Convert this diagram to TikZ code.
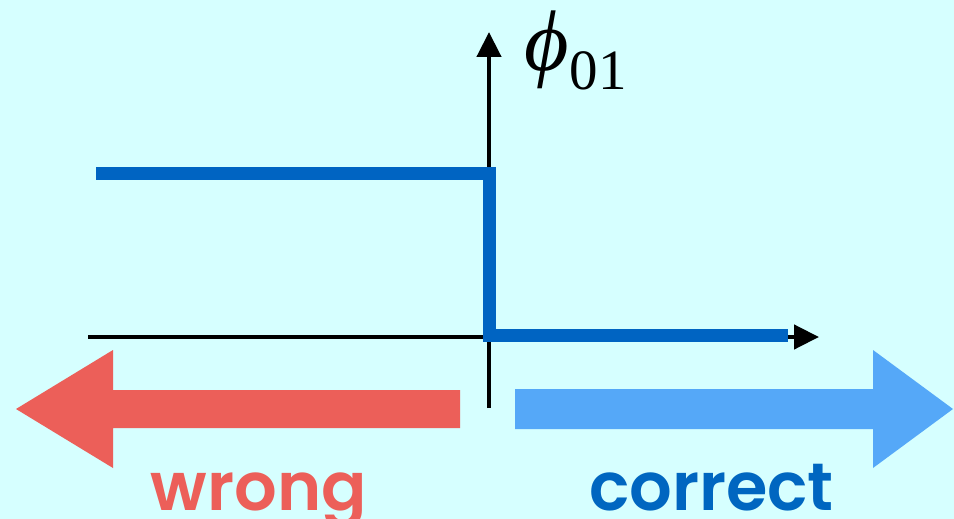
\documentclass[tikz,border=0pt]{standalone}
\usepackage{fontspec}
\setmainfont{Liberation Serif}
\newfontfamily\labelfont{Poppins}[UprightFont=* SemiBold]
\usetikzlibrary{arrows.meta}
\definecolor{bgc}{HTML}{D6FFFF}
\definecolor{redc}{HTML}{EC5F59}
\definecolor{bluearr}{HTML}{55A8F8}
\definecolor{blueline}{HTML}{0064C2}
\definecolor{bluetext}{HTML}{0066C0}
\tikzset{
  axis/.style={line width=4.5pt, -{Triangle[length=25pt,width=24pt]}},
  stepline/.style={line width=13pt, blueline, line join=miter, line cap=butt},
  lbl/.style={font=\labelfont\fontsize{67}{67}\selectfont, inner sep=0pt, anchor=base}
}
\begin{document}
\begin{tikzpicture}[x=1pt,y=-1pt]
\fill[bgc] (0,0) rectangle (954,519);
\useasboundingbox (0,0) rectangle (954,519);
% axes
\coordinate (xs) at (88,337);
\coordinate (xe) at (819,337);
\coordinate (ys) at (489,408);
\coordinate (ye) at (489,32);
\draw[axis] (xs) -- (xe);
\draw[axis] (ys) -- (ye);
% step function
\coordinate (s1) at (96,173.5);
\coordinate (s2) at (489.5,173.5);
\coordinate (s3) at (489.5,335);
\coordinate (s4) at (788,335);
\draw[stepline] (s1) -- (s2) -- (s3) -- (s4);
% label
\node[inner sep=0pt, anchor=base west] (phi) at (524,71) {\fontsize{86}{86}\selectfont\itshape ϕ\kern1pt\raisebox{-19pt}{\fontsize{57}{57}\selectfont\upshape 01}};
% big arrows
\fill[redc] (460,390) -- (113,390) -- (113,350) -- (16,409) -- (113,468) -- (113,428) -- (460,428) -- cycle;
\fill[bluearr] (515,389) -- (873,389) -- (873,350) -- (953,409) -- (873,468) -- (873,429) -- (515,429) -- cycle;
\node[lbl, text=redc] (wrong) at (259,510) {wrong};
\node[lbl, text=bluetext] (correct) at (711.5,510) {correct};
\end{tikzpicture}
\end{document}
